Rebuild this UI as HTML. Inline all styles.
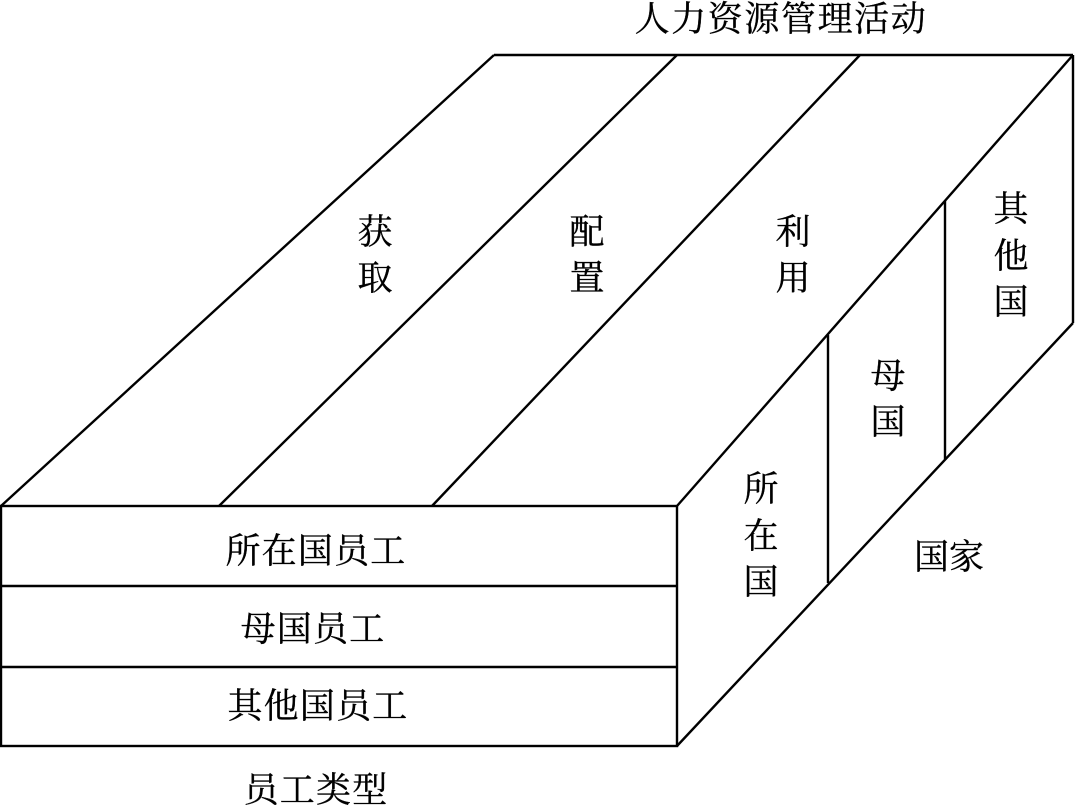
<!DOCTYPE html>
<html>
<head>
<meta charset="utf-8">
<style>
html,body{margin:0;padding:0;background:#fff;}
svg{display:block;}
text{font-family:"Liberation Serif","Noto Serif CJK SC",serif;font-size:35px;fill:#000;stroke:#000;stroke-width:0.35px;text-anchor:middle;}
.w{letter-spacing:1.2px;}
.t{letter-spacing:1.6px;}
</style>
</head>
<body>
<svg width="1075" height="806" viewBox="0 0 1075 806" xmlns="http://www.w3.org/2000/svg">
<g fill="none" stroke="#000" stroke-width="2.4">
<rect x="1" y="506" width="676" height="240"/>
<line x1="1" y1="586" x2="677" y2="586"/>
<line x1="1" y1="667" x2="677" y2="667"/>
<line x1="1" y1="506" x2="494" y2="55"/>
<line x1="494" y1="55" x2="1073" y2="55"/>
<line x1="219" y1="506" x2="677" y2="55"/>
<line x1="432" y1="506" x2="860" y2="55"/>
<line x1="677" y1="506" x2="1073" y2="55"/>
<line x1="1073" y1="55" x2="1073" y2="323"/>
<line x1="677" y1="746" x2="1073" y2="323"/>
<line x1="828" y1="335" x2="828" y2="583"/>
<line x1="945" y1="201" x2="945" y2="459"/>
</g>
<text class="t" x="781" y="31">人力资源管理活动</text>
<text x="375" y="244">获</text>
<text x="375" y="290">取</text>
<text x="587" y="244">配</text>
<text x="587" y="290">置</text>
<text x="793" y="244">利</text>
<text x="793" y="290">用</text>
<text x="1011" y="221">其</text>
<text x="1011" y="268">他</text>
<text x="1011" y="314">国</text>
<text x="888" y="388">母</text>
<text x="888" y="434">国</text>
<text x="761" y="501">所</text>
<text x="761" y="548">在</text>
<text x="761" y="594">国</text>
<text x="949" y="569">国家</text>
<text class="w" x="316" y="563">所在国员工</text>
<text class="w" x="313" y="641">母国员工</text>
<text class="w" x="318" y="718">其他国员工</text>
<text class="w" x="316" y="802">员工类型</text>
</svg>
</body>
</html>
